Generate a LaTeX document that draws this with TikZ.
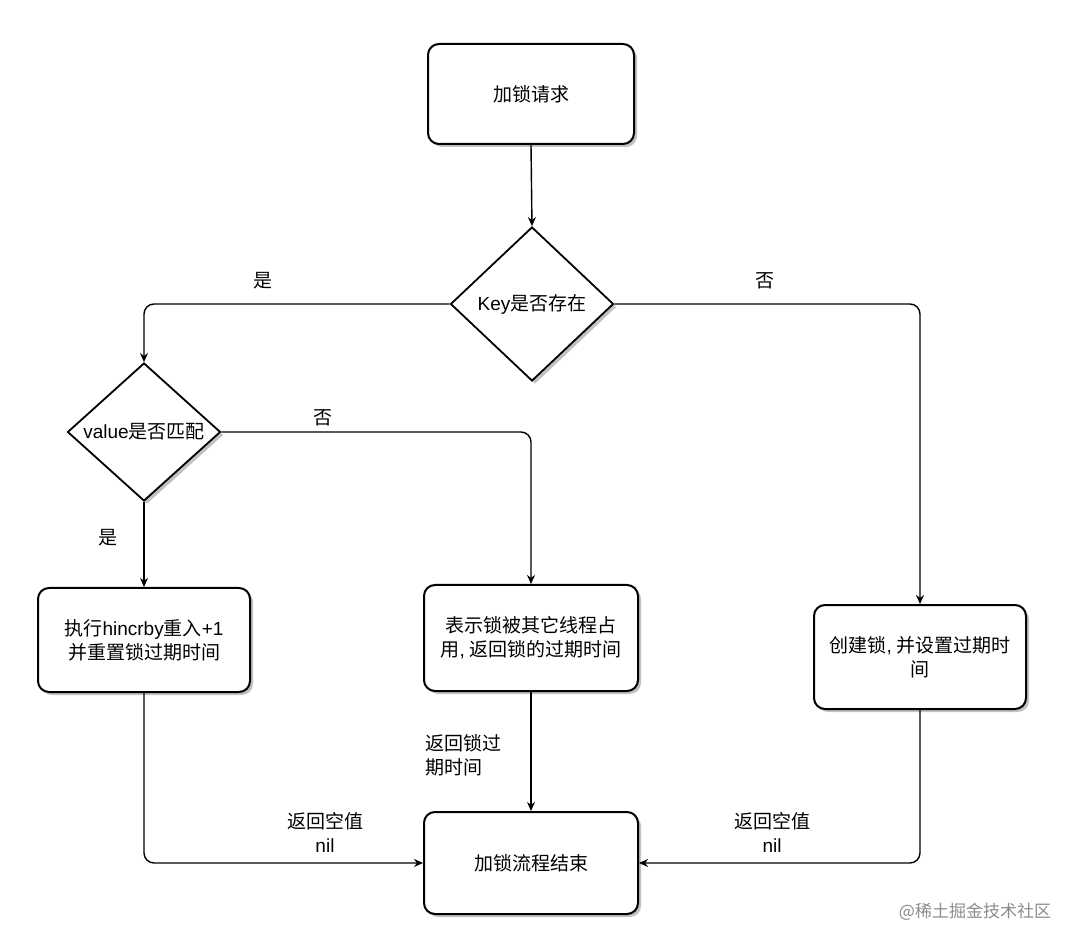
\documentclass[tikz,border=0pt]{standalone}
\usepackage{fontspec}
\setmainfont{Noto Sans CJK SC}
\newfontfamily\lat{Liberation Sans}
\usetikzlibrary{shapes.geometric,arrows.meta,shadows}
\begin{document}
\begin{tikzpicture}[x=1pt,y=-1pt,
  font=\fontsize{19}{24}\selectfont,
  shad/.style={drop shadow={shadow xshift=3pt,shadow yshift=-3pt,fill=black!30,opacity=0.8}},
  box/.style={draw,line width=2pt,rounded corners=11pt,fill=white,align=center,inner sep=0pt,shad},
  dia/.style={draw,diamond,line width=1.8pt,fill=white,inner sep=0pt,shad},
  txt/.style={align=center,inner sep=0pt},
  lab/.style={align=center,inner sep=0pt},
  arr/.style={line width=1.4pt,rounded corners=10pt,-{Stealth[length=9pt,width=8pt]}}
]
\useasboundingbox[fill=white] (0,0) rectangle (1080,949);

\node[box,minimum width=206pt,minimum height=100pt] (start) at (531,94) {加锁请求};
\node[dia,minimum width=163pt,minimum height=154pt] (key) at (532,304) {};
\node[txt] (keyt) at (key.center) {{\lat Key}是否存在};
\node[dia,minimum width=153pt,minimum height=138pt] (val) at (144,432) {};
\node[txt] (valt) at (val.center) {{\lat value}是否匹配};
\node[box,minimum width=212pt,minimum height=104pt] (hinc) at (144,640) {执行{\lat hincrby}重入{\lat +1}\\并重置锁过期时间};
\node[box,minimum width=214pt,minimum height=106pt] (occ) at (531,638) {表示锁被其它线程占\\用{\lat ,} 返回锁的过期时间};
\node[box,minimum width=212pt,minimum height=104pt] (create) at (920,657) {创建锁{\lat ,} 并设置过期时\\间};
\node[box,minimum width=214pt,minimum height=102pt] (end) at (531,863) {加锁流程结束};

\draw[arr] (start.south) -- (key.north);
\draw[arr] (key.west) -| (val.north);
\draw[arr] (key.east) -| (create.north);
\draw[arr] (val.east) -| (occ.north);
\draw[arr] (val.south) -- (hinc.north);
\draw[arr] (hinc.south) |- (end.west);
\draw[arr] (occ.south) -- (end.north);
\draw[arr] (create.south) |- (end.east);

\node[lab] (l1) at (263,281) {是};
\node[lab] (l2) at (765,281) {否};
\node[lab] (l3) at (323,418) {否};
\node[lab] (l4) at (108,538) {是};
\node[lab] (l5) at (325,832) {返回空值\\{\lat nil}};
\node[lab,align=left] (l6) at (463,755) {返回锁过\\期时间};
\node[lab] (l7) at (772,832) {返回空值\\{\lat nil}};
\node[inner sep=0pt,text=black!45,font=\fontsize{17}{20}\selectfont] (wm) at (975,912) {@稀土掘金技术社区};
\end{tikzpicture}
\end{document}
